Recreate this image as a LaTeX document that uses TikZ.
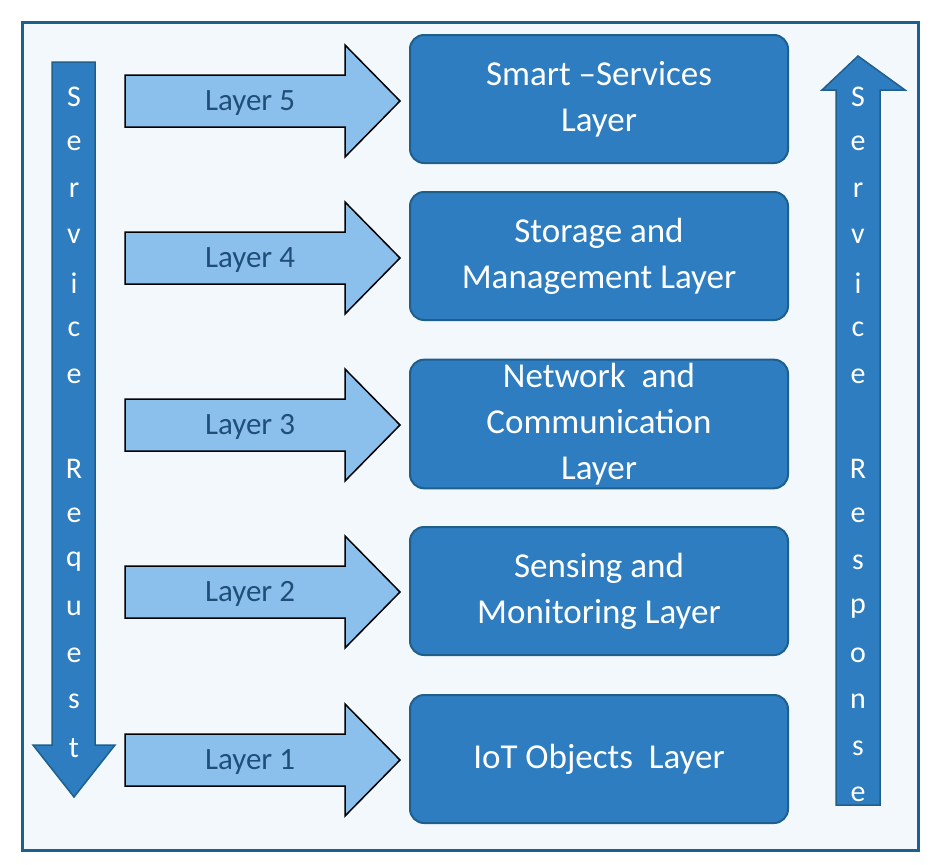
\documentclass[tikz,border=0pt]{standalone}
\usepackage{fontspec}
\setmainfont{Carlito}
\usetikzlibrary{shapes.arrows}
\definecolor{frame}{HTML}{1F5F8E}
\definecolor{bg}{HTML}{F3F8FC}
\definecolor{boxf}{HTML}{2E7DC0}
\definecolor{arrf}{HTML}{8CC0EC}
\definecolor{lab}{HTML}{1F4E79}
\begin{document}
\begin{tikzpicture}[x=1pt,y=-1pt,
  box/.style={draw=frame,line width=2pt,fill=boxf,rounded corners=14pt,minimum width=378pt,minimum height=128pt,text=white,font=\fontsize{35}{46}\selectfont,align=center},
  harr/.style={draw=black,line width=1.5pt,fill=arrf},
  vlet/.style={text=white,font=\fontsize{30}{32}\selectfont},
  lbl/.style={text=lab,font=\fontsize{31}{34}\selectfont}]
\useasboundingbox (0,0) rectangle (940,865);
\draw[draw=frame,line width=3pt,fill=bg] (22,22) rectangle (918,850);
% left arrow
\draw[draw=frame,line width=1.5pt,fill=boxf] (52,62) -- (95,62) -- (95,745) -- (115,745) -- (74,797) -- (33,745) -- (52,745) -- cycle;
% right arrow
\draw[draw=frame,line width=1.5pt,fill=boxf] (836,805) -- (880,805) -- (880,90) -- (905,90) -- (858,56) -- (822,90) -- (836,90) -- cycle;
\foreach \c [count=\i from 0] in {S,e,r,v,i,c,e, ,R,e,q,u,e,s,t}
  \node[vlet] (l\i) at (74,97+46.5*\i) {\c};
\foreach \c [count=\i from 0] in {S,e,r,v,i,c,e, ,R,e,s,p,o,n,s,e}
  \node[vlet] (r\i) at (858,97+46.5*\i) {\c};
% boxes
\node[box] (b5) at (599,99) {Smart –Services\\Layer};
\node[box] (b4) at (599,256) {Storage and\\Management Layer};
\node[box] (b3) at (599,424) {Network~ and\\Communication\\Layer};
\node[box] (b2) at (599,591) {Sensing and\\Monitoring Layer};
\node[box] (b1) at (599,759) {IoT Objects~ Layer};
\foreach \y/\n in {101/5,258/4,425/3,592/2,760/1}{
  \draw[harr] (125,\y-26) -- (345,\y-26) -- (345,\y-56) -- (400,\y) -- (345,\y+56) -- (345,\y+26) -- (125,\y+26) -- cycle;
  \node[lbl] (a\n) at (250,\y+2) {Layer \n};
}
\end{tikzpicture}
\end{document}
